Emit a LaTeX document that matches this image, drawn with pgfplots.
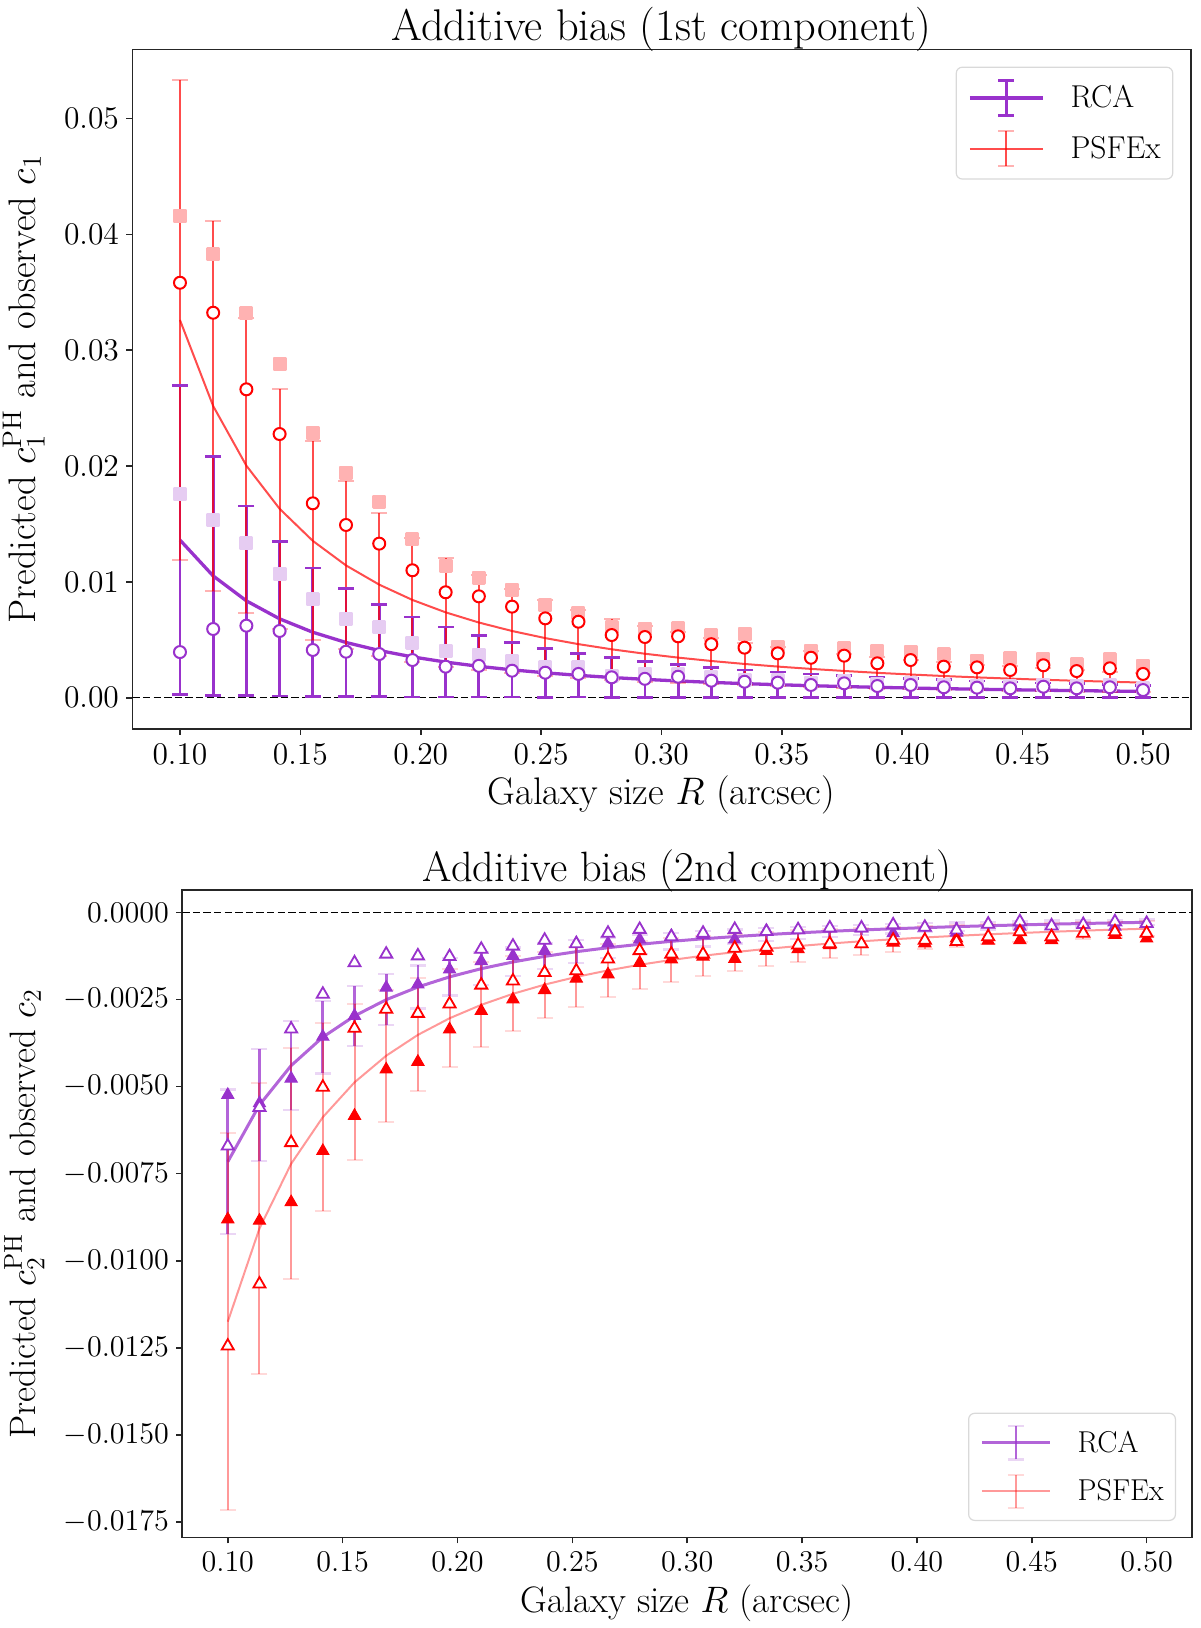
\RequirePackage{fix-cm}
\documentclass[border=0pt]{standalone}
\usepackage{pgfplots}
\pgfplotsset{compat=1.18}
\usepackage{pgfplotstable}

\definecolor{dorchid}{RGB}{153,50,204}
\colorlet{fredT}{red!30}
\colorlet{fpurT}{dorchid!25}

% top panel: x, predicted RCA (p) + error (e), predicted PSFEx (q) + error (f),
% observed PSFEx (oR), second PSFEx set (fR), observed RCA (oP), second RCA set (fP)
\pgfplotstableread{
x p e q f oR fR oP fP
0.100000 0.013610 0.01334 0.032600 0.02070 0.03582 0.04158 0.00394 0.01755
0.113793 0.010511 0.01030 0.025176 0.01599 0.03323 0.03827 0.00593 0.01534
0.127586 0.008361 0.00819 0.020027 0.01272 0.02662 0.03318 0.00622 0.01333
0.141379 0.006809 0.00667 0.016310 0.01036 0.02276 0.02880 0.00576 0.01068
0.155172 0.005652 0.00554 0.013539 0.00860 0.01678 0.02285 0.00412 0.00849
0.168966 0.004767 0.00467 0.011419 0.00725 0.01491 0.01942 0.00397 0.00682
0.182759 0.004075 0.00399 0.009760 0.00620 0.01330 0.01692 0.00377 0.00608
0.196552 0.003523 0.00345 0.008439 0.00536 0.01100 0.01367 0.00325 0.00475
0.210345 0.003076 0.00301 0.007368 0.00468 0.00910 0.01140 0.00268 0.00403
0.224138 0.002709 0.00265 0.006489 0.00412 0.00875 0.01036 0.00275 0.00369
0.237931 0.002404 0.00236 0.005759 0.00366 0.00786 0.00930 0.00233 0.00315
0.251724 0.002148 0.00211 0.005145 0.00327 0.00685 0.00800 0.00216 0.00262
0.265517 0.001931 0.00189 0.004624 0.00294 0.00656 0.00734 0.00205 0.00262
0.279310 0.001745 0.00171 0.004179 0.00265 0.00541 0.00608 0.00176 0.00190
0.293103 0.001584 0.00155 0.003795 0.00241 0.00524 0.00595 0.00163 0.00205
0.306897 0.001445 0.00142 0.003461 0.00220 0.00530 0.00600 0.00181 0.00205
0.320690 0.001323 0.00130 0.003170 0.00201 0.00462 0.00537 0.00147 0.00180
0.334483 0.001216 0.00119 0.002914 0.00185 0.00432 0.00550 0.00138 0.00155
0.348276 0.001122 0.00110 0.002688 0.00171 0.00383 0.00440 0.00130 0.00150
0.362069 0.001038 0.00102 0.002487 0.00158 0.00345 0.00406 0.00110 0.00130
0.375862 0.000963 0.00094 0.002308 0.00147 0.00363 0.00426 0.00124 0.00145
0.389655 0.000896 0.00088 0.002147 0.00136 0.00297 0.00406 0.00101 0.00120
0.403448 0.000836 0.00082 0.002003 0.00127 0.00325 0.00397 0.00110 0.00130
0.417241 0.000782 0.00077 0.001873 0.00119 0.00268 0.00374 0.00090 0.00110
0.431034 0.000733 0.00072 0.001755 0.00111 0.00262 0.00320 0.00087 0.00105
0.444828 0.000688 0.00067 0.001648 0.00105 0.00239 0.00340 0.00081 0.00100
0.458621 0.000647 0.00063 0.001550 0.00098 0.00280 0.00334 0.00095 0.00110
0.472414 0.000610 0.00060 0.001461 0.00093 0.00230 0.00288 0.00081 0.00100
0.486207 0.000576 0.00056 0.001379 0.00088 0.00254 0.00331 0.00090 0.00110
0.500000 0.000544 0.00053 0.001304 0.00083 0.00205 0.00274 0.00066 0.00080
}\topdata

% bottom panel: x, predicted RCA (p) + error (e), predicted PSFEx (q) + error (f),
% filled RCA (fP), open RCA (oP), filled PSFEx (fR), open PSFEx (oR)
\pgfplotstableread{
x p e q f fP oP fR oR
0.100000 -0.007160 0.00208 -0.011750 0.00541 -0.00524 -0.00671 -0.00881 -0.01245
0.113793 -0.005530 0.00160 -0.009074 0.00417 -0.00548 -0.00560 -0.00885 -0.01067
0.127586 -0.004399 0.00128 -0.007218 0.00332 -0.00477 -0.00335 -0.00832 -0.00661
0.141379 -0.003582 0.00104 -0.005879 0.00270 -0.00357 -0.00235 -0.00685 -0.00502
0.155172 -0.002974 0.00086 -0.004880 0.00224 -0.00297 -0.00145 -0.00584 -0.00333
0.168966 -0.002508 0.00073 -0.004116 0.00189 -0.00216 -0.00120 -0.00451 -0.00278
0.182759 -0.002144 0.00062 -0.003518 0.00162 -0.00207 -0.00125 -0.00429 -0.00290
0.196552 -0.001853 0.00054 -0.003041 0.00140 -0.00164 -0.00127 -0.00336 -0.00263
0.210345 -0.001618 0.00047 -0.002656 0.00122 -0.00140 -0.00106 -0.00283 -0.00209
0.224138 -0.001425 0.00041 -0.002339 0.00108 -0.00125 -0.00097 -0.00250 -0.00197
0.237931 -0.001265 0.00037 -0.002076 0.00095 -0.00111 -0.00080 -0.00223 -0.00173
0.251724 -0.001130 0.00033 -0.001854 0.00085 -0.00089 -0.00090 -0.00190 -0.00168
0.265517 -0.001016 0.00029 -0.001667 0.00077 -0.00089 -0.00060 -0.00178 -0.00134
0.279310 -0.000918 0.00027 -0.001506 0.00069 -0.00078 -0.00049 -0.00145 -0.00110
0.293103 -0.000833 0.00024 -0.001368 0.00063 -0.00068 -0.00070 -0.00135 -0.00120
0.306897 -0.000760 0.00022 -0.001247 0.00057 -0.00065 -0.00060 -0.00127 -0.00120
0.320690 -0.000696 0.00020 -0.001143 0.00053 -0.00078 -0.00049 -0.00134 -0.00103
0.334483 -0.000640 0.00019 -0.001050 0.00048 -0.00053 -0.00055 -0.00111 -0.00100
0.348276 -0.000590 0.00017 -0.000969 0.00045 -0.00051 -0.00050 -0.00106 -0.00094
0.362069 -0.000546 0.00016 -0.000896 0.00041 -0.00046 -0.00045 -0.00094 -0.00090
0.375862 -0.000507 0.00015 -0.000832 0.00038 -0.00046 -0.00045 -0.00091 -0.00090
0.389655 -0.000472 0.00014 -0.000774 0.00036 -0.00060 -0.00036 -0.00087 -0.00080
0.403448 -0.000440 0.00013 -0.000722 0.00033 -0.00043 -0.00043 -0.00089 -0.00080
0.417241 -0.000411 0.00012 -0.000675 0.00031 -0.00058 -0.00051 -0.00075 -0.00084
0.431034 -0.000385 0.00011 -0.000632 0.00029 -0.00034 -0.00034 -0.00081 -0.00070
0.444828 -0.000362 0.00010 -0.000594 0.00027 -0.00041 -0.00027 -0.00080 -0.00056
0.458621 -0.000340 0.00010 -0.000559 0.00026 -0.00039 -0.00039 -0.00080 -0.00070
0.472414 -0.000321 0.00009 -0.000526 0.00024 -0.00035 -0.00035 -0.00060 -0.00060
0.486207 -0.000303 0.00009 -0.000497 0.00023 -0.00041 -0.00027 -0.00065 -0.00056
0.500000 -0.000286 0.00008 -0.000470 0.00022 -0.00032 -0.00032 -0.00075 -0.00060
}\botdata

\pgfplotsset{
  mystyle/.style={
    scale only axis,
    axis line style={black!85, line width=0.8pt},
    tick style={black!85, line width=0.8pt},
    major tick length=3pt,
    tick align=outside,
    tick pos=left,
    scaled ticks=false,
    xmin=0.0802, xmax=0.5198,
    xtick={0.10,0.15,0.20,0.25,0.30,0.35,0.40,0.45,0.50},
    xticklabels={$0.10$,$0.15$,$0.20$,$0.25$,$0.30$,$0.35$,$0.40$,$0.45$,$0.50$},
    xticklabel style={inner sep=0pt, anchor=north, yshift=-4.3pt},
    yticklabel style={inner sep=0pt, anchor=east, xshift=-3.5pt},
    legend cell align=left,
  },
}

\begin{document}
\begin{tikzpicture}

% ================= TOP PANEL =================
\begin{axis}[mystyle,
  at={(66.15pt,-24.65pt)}, anchor=north west,
  width=529.2pt, height=339.7pt,
  ymin=-0.002676, ymax=0.05597,
  ytick={0,0.01,0.02,0.03,0.04,0.05},
  yticklabels={$0.00$,$0.01$,$0.02$,$0.03$,$0.04$,$0.05$},
  ticklabel style={font=\fontsize{15.75}{18}\selectfont},
  title={Additive bias (1st component)},
  title style={font=\fontsize{22.2}{26}\selectfont, at={(0.5,1)}, anchor=base, yshift=-1.7pt, inner sep=0pt},
  xlabel={Galaxy size $R$ (arcsec)},
  xlabel style={font=\fontsize{19.2}{23}\selectfont, at={(axis description cs:0.5,0)}, anchor=north, yshift=-23.5pt, inner sep=0pt},
  ylabel={Predicted $c_1^{\mathrm{PH}}$ and observed $c_1$},
  ylabel style={font=\fontsize{19.2}{23}\selectfont, at={(axis description cs:-0.0825,0.5)}, anchor=south, inner sep=0pt},
  legend style={at={(0.9836,0.9745)}, anchor=north east,
    draw=black!15, line width=0.6pt, rounded corners=3pt, fill=white,
    font=\fontsize{15.8}{18}\selectfont,
    inner xsep=6pt, inner ysep=5.9pt, row sep=6.7pt, column sep=13.2pt,
    nodes={inner sep=0pt}},
]
\addplot[black, line width=0.75pt, dash pattern=on 3.7pt off 1.6pt, forget plot]
  coordinates {(0.0802,0) (0.5198,0)};

% RCA: error bars (segments from p-e to p+e), caps, prediction line
\addplot[dorchid, line width=1.4pt, quiver={u=0, v=2*\thisrow{e}}, forget plot]
  table[x=x, y expr=\thisrow{p}-\thisrow{e}] {\topdata};
\addplot[only marks, mark=-, mark size=4pt, mark options={dorchid, line width=1.25pt}, forget plot]
  table[x=x, y expr=\thisrow{p}+\thisrow{e}] {\topdata};
\addplot[only marks, mark=-, mark size=4pt, mark options={dorchid, line width=1.25pt}, forget plot]
  table[x=x, y expr=\thisrow{p}-\thisrow{e}] {\topdata};
\addplot[dorchid, line width=1.65pt, mark=none,
  legend image code/.code={
    \draw[dorchid, line width=1.65pt] (0pt,0pt) -- (36.3pt,0pt);
    \draw[dorchid, line width=1.4pt] (18.15pt,-8.75pt) -- (18.15pt,8.75pt);
    \draw[dorchid, line width=1.25pt] (14.15pt,-8.75pt) -- (22.15pt,-8.75pt) (14.15pt,8.75pt) -- (22.15pt,8.75pt);
  }]
  table[x=x, y=p] {\topdata};
\addlegendentry{RCA}

% PSFEx
\addplot[red, draw opacity=0.7, line width=1pt, quiver={u=0, v=2*\thisrow{f}}, forget plot]
  table[x=x, y expr=\thisrow{q}-\thisrow{f}] {\topdata};
\addplot[only marks, mark=-, mark size=4pt, mark options={red, draw opacity=0.3, line width=1pt}, forget plot]
  table[x=x, y expr=\thisrow{q}+\thisrow{f}] {\topdata};
\addplot[only marks, mark=-, mark size=4pt, mark options={red, draw opacity=0.3, line width=1pt}, forget plot]
  table[x=x, y expr=\thisrow{q}-\thisrow{f}] {\topdata};
\addplot[red, draw opacity=0.7, line width=1pt, mark=none,
  legend image code/.code={
    \draw[red, draw opacity=0.7, line width=1pt] (0pt,0pt) -- (36.3pt,0pt);
    \draw[red, draw opacity=0.7, line width=1pt] (18.15pt,-8.75pt) -- (18.15pt,8.75pt);
    \draw[red, draw opacity=0.3, line width=1pt] (14.15pt,-8.75pt) -- (22.15pt,-8.75pt) (14.15pt,8.75pt) -- (22.15pt,8.75pt);
  }]
  table[x=x, y=q] {\topdata};
\addlegendentry{PSFEx}

\addplot[only marks, mark=square*, mark size=2.9pt,
  mark options={draw=fpurT, fill=fpurT, line width=1.2pt, line join=round}, forget plot]
  table[x=x, y=fP] {\topdata};
\addplot[only marks, mark=square*, mark size=2.9pt,
  mark options={draw=fredT, fill=fredT, line width=1.2pt, line join=round}, forget plot]
  table[x=x, y=fR] {\topdata};
\addplot[only marks, mark=*, mark size=3.0pt,
  mark options={draw=dorchid, fill=white, line width=1pt}, forget plot]
  table[x=x, y=oP] {\topdata};
\addplot[only marks, mark=*, mark size=3.0pt,
  mark options={draw=red, fill=white, line width=1pt}, forget plot]
  table[x=x, y=oR] {\topdata};
\end{axis}

% ================= BOTTOM PANEL =================
\begin{axis}[mystyle,
  at={(91.15pt,-445pt)}, anchor=north west,
  width=504.9pt, height=323.65pt,
  ymin=-0.017939, ymax=0.00064,
  ytick={-0.0175,-0.015,-0.0125,-0.01,-0.0075,-0.005,-0.0025,0},
  yticklabels={$-0.0175$,$-0.0150$,$-0.0125$,$-0.0100$,$-0.0075$,$-0.0050$,$-0.0025$,$0.0000$},
  ticklabel style={font=\fontsize{15.05}{18}\selectfont},
  title={Additive bias (2nd component)},
  title style={font=\fontsize{21.2}{25}\selectfont, at={(0.5,1)}, anchor=base, yshift=-1.85pt, inner sep=0pt},
  xlabel={Galaxy size $R$ (arcsec)},
  xlabel style={font=\fontsize{18.4}{22}\selectfont, at={(axis description cs:0.5,0)}, anchor=north, yshift=-23.5pt, inner sep=0pt},
  ylabel={Predicted $c_2^{\mathrm{PH}}$ and observed $c_2$},
  ylabel style={font=\fontsize{18.4}{22}\selectfont, at={(axis description cs:-0.1362,0.5)}, anchor=south, inner sep=0pt},
  legend style={at={(0.9841,0.0252)}, anchor=south east,
    draw=black!15, line width=0.6pt, rounded corners=3pt, fill=white,
    font=\fontsize{15.1}{18}\selectfont,
    inner xsep=5.8pt, inner ysep=5.8pt, row sep=6.4pt, column sep=13.0pt,
    nodes={inner sep=0pt}},
]
\addplot[black, line width=0.75pt, dash pattern=on 3.7pt off 1.6pt, forget plot]
  coordinates {(0.0802,0) (0.5198,0)};

% RCA
\addplot[dorchid, draw opacity=0.75, line width=1.35pt, quiver={u=0, v=2*\thisrow{e}}, forget plot]
  table[x=x, y expr=\thisrow{p}-\thisrow{e}] {\botdata};
\addplot[only marks, mark=-, mark size=4pt, mark options={dorchid, draw opacity=0.2, line width=1.2pt}, forget plot]
  table[x=x, y expr=\thisrow{p}+\thisrow{e}] {\botdata};
\addplot[only marks, mark=-, mark size=4pt, mark options={dorchid, draw opacity=0.2, line width=1.2pt}, forget plot]
  table[x=x, y expr=\thisrow{p}-\thisrow{e}] {\botdata};
\addplot[dorchid, draw opacity=0.75, line width=1.5pt, mark=none,
  legend image code/.code={
    \draw[dorchid, draw opacity=0.75, line width=1.5pt] (0pt,0pt) -- (34.2pt,0pt);
    \draw[dorchid, draw opacity=0.75, line width=1.35pt] (17.1pt,-8.3pt) -- (17.1pt,8.3pt);
    \draw[dorchid, draw opacity=0.2, line width=1.2pt] (13.1pt,-8.3pt) -- (21.1pt,-8.3pt) (13.1pt,8.3pt) -- (21.1pt,8.3pt);
  }]
  table[x=x, y=p] {\botdata};
\addlegendentry{RCA}

% PSFEx
\addplot[red, draw opacity=0.4, line width=1pt, quiver={u=0, v=2*\thisrow{f}}, forget plot]
  table[x=x, y expr=\thisrow{q}-\thisrow{f}] {\botdata};
\addplot[only marks, mark=-, mark size=4pt, mark options={red, draw opacity=0.15, line width=1pt}, forget plot]
  table[x=x, y expr=\thisrow{q}+\thisrow{f}] {\botdata};
\addplot[only marks, mark=-, mark size=4pt, mark options={red, draw opacity=0.15, line width=1pt}, forget plot]
  table[x=x, y expr=\thisrow{q}-\thisrow{f}] {\botdata};
\addplot[red, draw opacity=0.4, line width=1pt, mark=none,
  legend image code/.code={
    \draw[red, draw opacity=0.4, line width=1pt] (0pt,0pt) -- (34.2pt,0pt);
    \draw[red, draw opacity=0.4, line width=1pt] (17.1pt,-8.3pt) -- (17.1pt,8.3pt);
    \draw[red, draw opacity=0.15, line width=1pt] (13.1pt,-8.3pt) -- (21.1pt,-8.3pt) (13.1pt,8.3pt) -- (21.1pt,8.3pt);
  }]
  table[x=x, y=q] {\botdata};
\addlegendentry{PSFEx}

\addplot[only marks, mark=triangle*, mark size=3.5pt,
  mark options={draw=dorchid, fill=dorchid, line width=0.5pt}, forget plot]
  table[x=x, y=fP] {\botdata};
\addplot[only marks, mark=triangle*, mark size=3.5pt,
  mark options={draw=red, fill=red, line width=0.5pt}, forget plot]
  table[x=x, y=fR] {\botdata};
\addplot[only marks, mark=triangle*, mark size=3.5pt,
  mark options={draw=dorchid, fill=white, line width=0.9pt}, forget plot]
  table[x=x, y=oP] {\botdata};
\addplot[only marks, mark=triangle*, mark size=3.5pt,
  mark options={draw=red, fill=white, line width=0.9pt}, forget plot]
  table[x=x, y=oR] {\botdata};
\end{axis}

\pgfresetboundingbox
\path[use as bounding box] (0pt,0pt) rectangle (600pt,-814pt);
\end{tikzpicture}
\end{document}
